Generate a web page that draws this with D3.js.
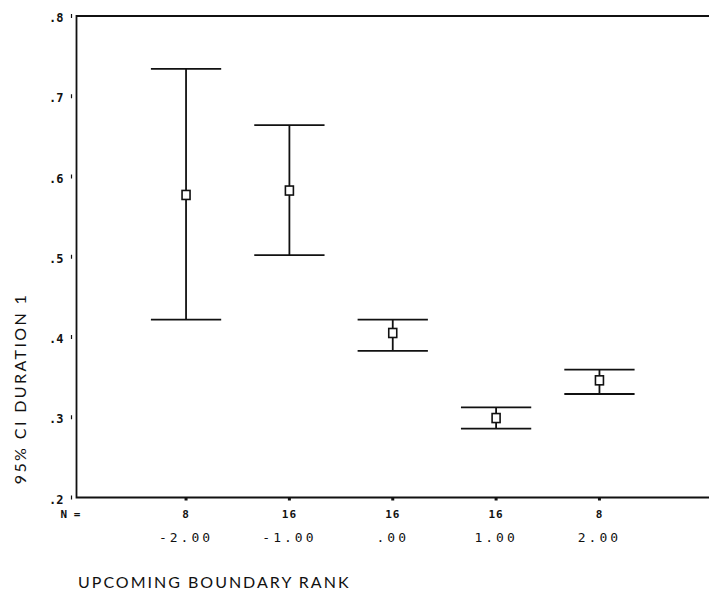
<!DOCTYPE html>
<html>
<head>
<meta charset="utf-8">
<script src="https://cdn.jsdelivr.net/npm/d3@7/dist/d3.min.js"></script>
<style>
  html, body { margin: 0; padding: 0; background: #fff; }
  svg { display: block; }
</style>
</head>
<body>
<svg id="chart" width="709" height="592"></svg>
<script>
// ---- data ----
const categories = [-2, -1, 0, 1, 2];
const categoryLabels = ["-2.00", "-1.00", ".00", "1.00", "2.00"];
const nCounts = ["8", "16", "16", "16", "8"];
const means = [0.577, 0.5825, 0.405, 0.299, 0.346];
const upper = [0.734, 0.664, 0.4216, 0.3124, 0.3593];
const lower = [0.4216, 0.502, 0.3826, 0.2859, 0.329];
const yTicks = [0.2, 0.3, 0.4, 0.5, 0.6, 0.7, 0.8];
const yTickLabels = [".2", ".3", ".4", ".5", ".6", ".7", ".8"];

(function () {
// ---- layout ----
const svg = d3.select("#chart");
const plotL = 76.5, plotR = 709, plotT = 16, plotB = 497.5;

const x = d3.scaleLinear().domain([-3.06, 3.06]).range([plotL, plotR]);
const y = d3.scaleLinear().domain([0.2, 0.8]).range([plotB, plotT]);

const ink = "#111";
const capHalf = 0.34;

// frame: top, left, bottom
svg.append("path")
  .attr("d", `M${plotR},${plotT}H${plotL}V${plotB}H${plotR}`)
  .attr("fill", "none").attr("stroke", ink).attr("stroke-width", 1.8);

// y axis ticks (small marks) + labels
const yg = svg.append("g");
yTicks.forEach((t, i) => {
  yg.append("line")
    .attr("x1", plotL - 5).attr("x2", plotL - 5)
    .attr("y1", y(t) - 2).attr("y2", y(t) + 2)
    .attr("stroke", ink).attr("stroke-width", 1.2);
  yg.append("text")
    .attr("x", plotL - 13).attr("y", y(t) + 6)
    .attr("text-anchor", "end")
    .attr("font-family", "DejaVu Sans Mono")
    .attr("font-size", 12).attr("font-weight", "bold")
    .attr("fill", ink)
    .text(yTickLabels[i]);
});

// x ticks + labels
const xg = svg.append("g");
categories.forEach((c, i) => {
  xg.append("line")
    .attr("x1", x(c)).attr("x2", x(c))
    .attr("y1", plotB).attr("y2", plotB + 3)
    .attr("stroke", ink).attr("stroke-width", 3);
  xg.append("text")
    .attr("x", x(c)).attr("y", plotB + 20)
    .attr("text-anchor", "middle")
    .attr("font-family", "DejaVu Sans Mono")
    .attr("font-size", 11).attr("font-weight", "bold")
    .attr("letter-spacing", 1)
    .attr("fill", ink)
    .text(nCounts[i]);
  xg.append("text")
    .attr("x", x(c)).attr("y", plotB + 44)
    .attr("text-anchor", "middle")
    .attr("font-family", "DejaVu Sans Mono")
    .attr("font-size", 13)
    .attr("letter-spacing", 3)
    .attr("fill", ink)
    .text(categoryLabels[i]);
});
svg.append("text")
  .attr("x", plotL - 16).attr("y", plotB + 20)
  .attr("font-family", "DejaVu Sans Mono")
  .attr("font-size", 11).attr("font-weight", "bold")
  .attr("fill", ink)
  .text("N =");

// error bars
const eb = svg.append("g").attr("stroke", ink).attr("fill", "none").attr("stroke-width", 1.8);
categories.forEach((c, i) => {
  eb.append("line")
    .attr("x1", x(c)).attr("x2", x(c))
    .attr("y1", y(upper[i])).attr("y2", y(lower[i]));
  [upper[i], lower[i]].forEach(v => {
    eb.append("line")
      .attr("x1", x(c - capHalf)).attr("x2", x(c + capHalf))
      .attr("y1", y(v)).attr("y2", y(v));
  });
  eb.append("rect")
    .attr("x", x(c) - 4).attr("y", y(means[i]) - 4.5)
    .attr("width", 8).attr("height", 9)
    .attr("fill", "#fff").attr("stroke-width", 1.6);
});

// axis titles
svg.append("text")
  .attr("transform", `translate(26,${(285 + 492) / 2}) rotate(-90)`)
  .attr("text-anchor", "middle")
  .attr("font-family", "Lato")
  .attr("font-size", 16)
  .attr("letter-spacing", 2.4)
  .attr("fill", ink)
  .text("95% CI DURATION 1");

svg.append("text")
  .attr("x", 78).attr("y", 588)
  .attr("font-family", "Lato")
  .attr("font-size", 16)
  .attr("letter-spacing", 2)
  .attr("fill", ink)
  .text("UPCOMING BOUNDARY RANK");
})();
</script>
</body>
</html>
